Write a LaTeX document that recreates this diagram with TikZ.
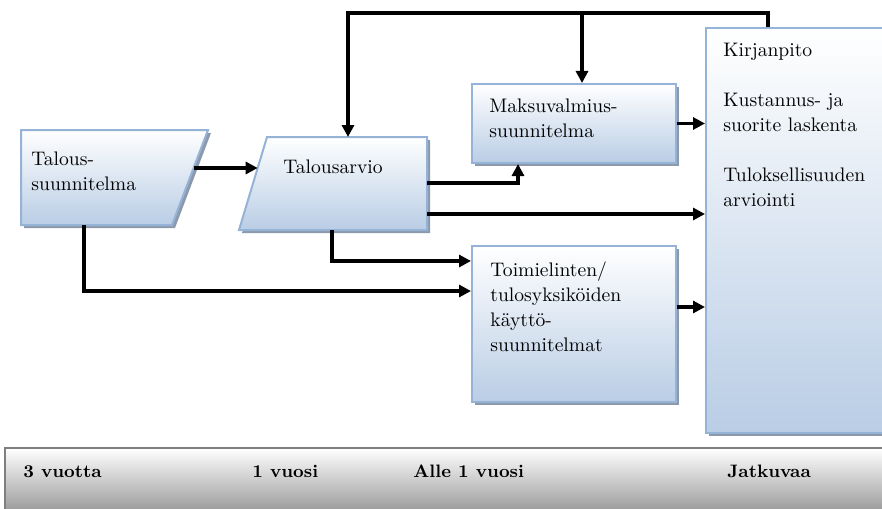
\documentclass[tikz,border=0pt]{standalone}
\usetikzlibrary{arrows.meta,shadows,calc}

\definecolor{boxblue}{HTML}{B9CDE5}
\definecolor{boxedge}{HTML}{95B3D7}
\definecolor{shadowc}{HTML}{8C99AA}
\definecolor{bargray}{HTML}{A0A0A0}
\definecolor{baredge}{HTML}{7F7F7F}

\tikzset{
  panel/.style={top color=white, bottom color=boxblue, draw=boxedge, line width=1pt,
    drop shadow={shadow xshift=1.5pt, shadow yshift=-1.5pt, fill=shadowc, opacity=1}},
  boxnode/.style={panel, rectangle, inner sep=0pt},
  lbl/.style={anchor=north west, align=left, inner sep=0pt,
    font=\rmfamily\fontsize{9.8}{12.5}\selectfont},
  period/.style={anchor=base west, inner sep=0pt,
    font=\rmfamily\fontsize{9}{12}\selectfont\bfseries},
  wire/.style={line width=1.6pt},
  flow/.style={wire, -{Triangle[length=6pt,width=6pt]}},
}

\begin{document}
\begin{tikzpicture}[x=0.5pt, y=-0.5pt]
  \clip (0,0) rectangle (882,508);

  % time line band at the bottom
  \path[top color=white, bottom color=bargray] (5,448) rectangle (900,508);
  \draw[baredge, line width=1.2pt] (5,520) -- (5,448) -- (900,448);
  \node[period] (p3) at (23,477) {3 vuotta};
  \node[period] (p1) at (252,477) {1 vuosi};
  \node[period] (p0) at (413,477) {Alle 1 vuosi};
  \node[period] (pc) at (727,477) {Jatkuvaa};

  % planning shapes
  \path[panel] (21,130) -- (208,130) -- (172,225) -- (21,225) -- cycle;
  \path[panel] (267,137) -- (427,137) -- (427,230) -- (239,230) -- cycle;

  \node[boxnode, minimum width=102pt, minimum height=39.5pt] (mv) at (574,123.5) {};
  \node[boxnode, minimum width=102pt, minimum height=78pt] (to) at (574,324) {};
  \node[boxnode, minimum width=97pt, minimum height=202.5pt] (kp) at (803,230.5) {};

  % labels
  \node[lbl] (ts) at (31,151) {Talous-\\suunnitelma};
  \node[lbl] (ta) at (283,159) {Talousarvio};
  \node[lbl] (mvt) at (489,98) {Maksuvalmius-\\suunnitelma};
  \node[lbl] (tot) at (490,261) {Toimielinten/\\tulosyksiköiden\\käyttö-\\suunnitelmat};
  \node[lbl] (kpt) at (723,43) {Kirjanpito\\[12.5pt]Kustannus- ja\\suorite laskenta\\[12.5pt]Tuloksellisuuden\\arviointi};

  % ports on the slanted shapes
  \coordinate (ts-out) at (193.6,168);
  \coordinate (ta-in) at (257.7,168);
  \coordinate (ta-top) at (348,137);
  \coordinate (ta-up) at (427,183);
  \coordinate (ta-right) at (427,214);
  \coordinate (ta-down) at (332,230);
  \coordinate (ts-down) at (84,225);
  \coordinate (loop) at (768,13);
  \coordinate (tap) at (582,13);

  % connectors
  \draw[flow] (ts-out) -- (ta-in);
  \draw[flow] (kp.north -| loop) -- (loop) -| (ta-top);
  \draw[flow] (tap) -- (tap |- mv.north);
  \draw[flow] (ta-up) -| ([xshift=23.5pt]mv.south west);
  \draw[flow] (ta-right) -- (ta-right -| kp.west);
  \draw[flow] (mv.east) -- (mv.east -| kp.west);
  \draw[flow] (ta-down) |- ([yshift=-8pt]to.north west);
  \draw[flow] (ts-down) |- ([yshift=-23pt]to.north west);
  \draw[flow] ([yshift=-31pt]to.north east) -- ([yshift=-31pt]to.north east -| kp.west);
\end{tikzpicture}
\end{document}
